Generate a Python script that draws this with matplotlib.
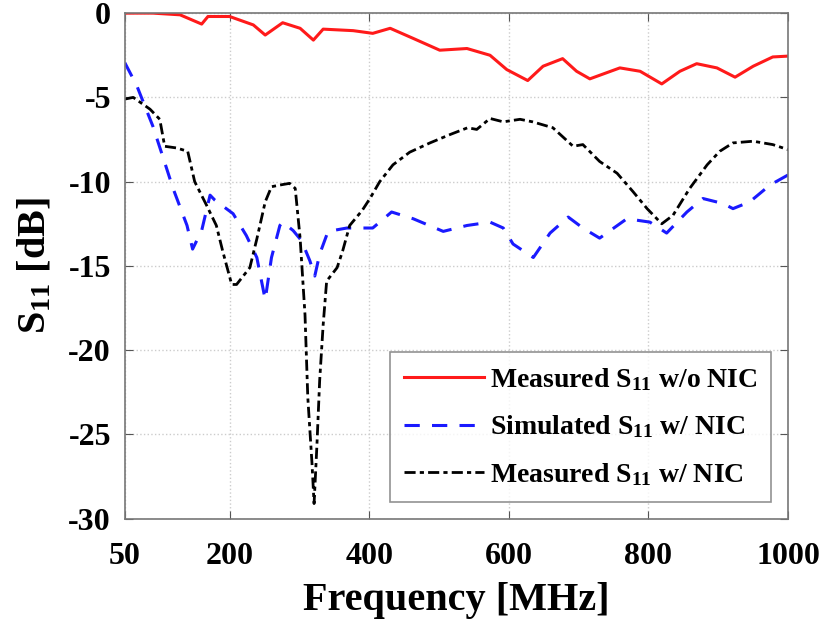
import matplotlib
matplotlib.use("Agg")
import matplotlib.pyplot as plt

# Measured S11 without NIC
f_red = [50, 90, 129, 160, 169, 200, 234, 251, 276, 301, 320, 334, 377, 405, 430, 463, 501, 540,
         573, 597, 627, 649, 677, 697, 716, 759, 788, 819, 845, 869, 898, 924, 950, 978, 1000]
s_red = [0, 0, -0.1, -0.65, -0.2, -0.2, -0.7, -1.3, -0.57, -0.9, -1.6, -0.95, -1.04, -1.2, -0.9, -1.5, -2.2, -2.1,
         -2.5, -3.35, -4.0, -3.15, -2.7, -3.45, -3.9, -3.25, -3.45, -4.2, -3.45, -3.0, -3.25, -3.8, -3.15, -2.6, -2.55]

# Simulated S11 with NIC
f_blue = [50, 67, 90, 105, 119, 139, 147, 160, 172, 179, 205, 224, 239, 251, 260, 272, 276, 291, 303, 315,
          322, 329, 341, 368, 405, 432, 463, 506, 540, 573, 592, 606, 635, 659, 685, 706, 730, 769, 802,
          826, 855, 878, 907, 921, 945, 974, 1000]
s_blue = [-2.95, -4.3, -6.7, -8.6, -10.4, -12.6, -14.0, -12.9, -10.8, -11.1, -11.9, -13.2, -14.5, -17.0, -14.5,
          -12.6, -12.4, -12.9, -13.5, -14.7, -15.6, -14.3, -12.95, -12.75, -12.75, -11.8, -12.2, -12.95, -12.6,
          -12.4, -12.75, -13.7, -14.5, -13.05, -12.1, -12.75, -13.35, -12.2, -12.4, -13.05, -11.8, -11.0, -11.3,
          -11.6, -11.2, -10.2, -9.6]

# Measured S11 with NIC
f_black = [50, 62, 86, 100, 107, 124, 140, 150, 167, 181, 190, 203, 210, 229, 239, 251, 260, 272, 286, 294,
           301, 308, 312, 318, 321, 325, 329, 334, 339, 354, 362, 372, 390, 401, 415, 434, 458, 487, 516,
           541, 554, 573, 592, 616, 634, 663, 692, 706, 730, 755, 778, 798, 819, 835, 859, 884, 902, 921,
           950, 978, 1000]
s_black = [-5.1, -5.0, -5.7, -6.3, -7.9, -8.0, -8.2, -10.0, -11.4, -12.6, -14.1, -16.1, -16.1, -15.1, -13.4,
           -11.2, -10.3, -10.2, -10.1, -10.4, -13.35, -17.9, -22.8, -26.7, -29.1, -25.7, -21.8, -18.5, -15.9,
           -15.1, -14.1, -12.6, -11.7, -11.0, -10.0, -9.0, -8.25, -7.7, -7.2, -6.8, -6.9, -6.25, -6.45, -6.3,
           -6.45, -6.8, -7.9, -7.8, -8.8, -9.5, -10.6, -11.6, -12.5, -12.0, -10.4, -9.0, -8.2, -7.7, -7.6,
           -7.8, -8.1]

x_ticks = [50, 200, 400, 600, 800, 1000]
y_ticks = [0, -5, -10, -15, -20, -25, -30]

plt.rcParams['font.family'] = ['Liberation Serif', 'DejaVu Serif']
plt.rcParams['font.weight'] = 'bold'
plt.rcParams['mathtext.fontset'] = 'custom'
plt.rcParams['mathtext.rm'] = 'Liberation Serif:bold'
plt.rcParams['mathtext.it'] = 'Liberation Serif:bold'
plt.rcParams['mathtext.bf'] = 'Liberation Serif:bold'

fig = plt.figure(figsize=(8.27, 6.25), dpi=100)
ax = fig.add_axes([0.151, 0.170, 0.802, 0.809])

ax.plot(f_red, s_red, color='#ff1a1a', lw=2.2, label='Measured S$_{11}$ w/o NIC')
ax.plot(f_blue, s_blue, color='#1a1aff', lw=2.2, dashes=(5, 4), label='Simulated S$_{11}$ w/ NIC')
ax.plot(f_black, s_black, color='black', lw=2.0, linestyle=(0, (4, 1.5, 1.5, 1.5)),
        label='Measured S$_{11}$ w/ NIC')

ax.set_xlim(50, 1000)
ax.set_ylim(-30, 0)
ax.set_xticks(x_ticks)
ax.set_yticks(y_ticks)
ax.set_xticklabels([str(v) for v in x_ticks])
ax.set_yticklabels([str(v) for v in y_ticks])
ax.tick_params(direction='in', top=True, right=True, labelsize=23, length=6, color='#555555')
ax.tick_params(axis='x', pad=17)
ax.tick_params(axis='y', pad=10)
for lab in ax.get_xticklabels() + ax.get_yticklabels():
    lab.set_fontweight('bold')
for sp in ax.spines.values():
    sp.set_color('#777777')
    sp.set_linewidth(1.2)
ax.grid(True, linestyle=':', color='#cccccc', lw=1.0)

ax.set_xlabel('Frequency [MHz]', fontsize=29, fontweight='bold', labelpad=8)
ax.set_ylabel('S$_{11}$ [dB]', fontsize=29, fontweight='bold', labelpad=10)

leg = ax.legend(loc='lower right', frameon=True, fancybox=False,
                edgecolor='#777777', handlelength=2.9, handletextpad=0.2,
                borderaxespad=0.6, labelspacing=0.75, borderpad=0.5,
                prop={'weight': 'bold', 'size': 20})
leg.get_frame().set_linewidth(1.2)

fig.savefig('out.png', dpi=100)
